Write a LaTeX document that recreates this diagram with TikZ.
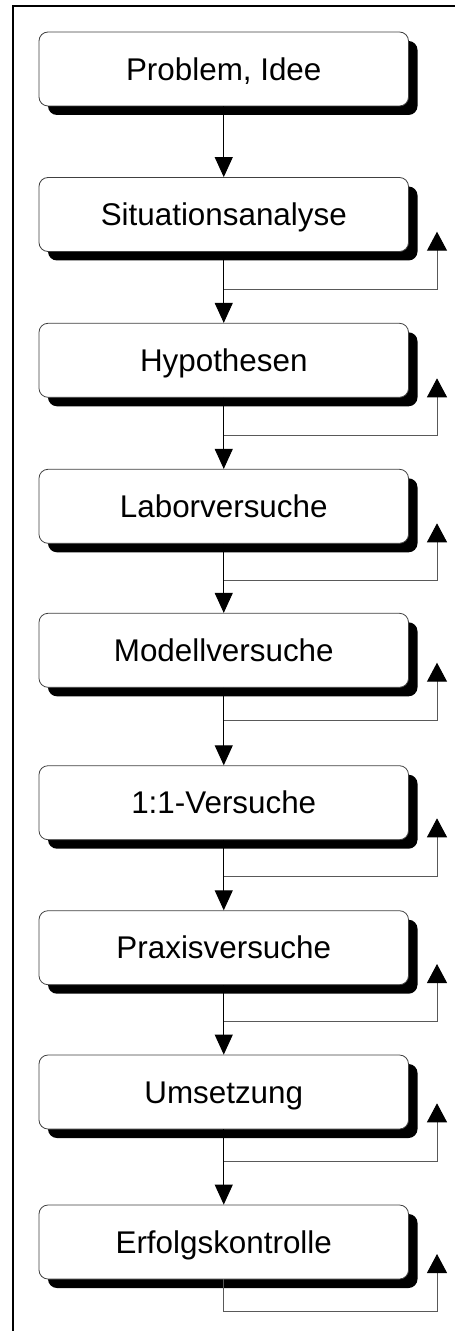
\documentclass[tikz,border=0pt]{standalone}
\usepackage{fontspec}
\setmainfont{Liberation Sans}
\usetikzlibrary{arrows.meta,shadows}
\begin{document}
\begin{tikzpicture}[x=1bp,y=-1bp,
  stepbox/.style={draw=black!75, line width=0.8bp, fill=white, rounded corners=9bp,
    minimum width=369.5bp, minimum height=74bp, inner sep=0pt,
    text height=22.5bp, text depth=0pt,
    font=\fontsize{31.5}{37}\selectfont,
    drop shadow={shadow xshift=9bp, shadow yshift=-9bp, fill=black, opacity=1, rounded corners=9bp, draw=none}},
  flow/.style={draw=black, line width=1bp, -{Triangle[width=18bp,length=20bp,color=black]}},
  fbline/.style={draw=black!65, line width=1bp},
  fbarrow/.style={draw=black!65, line width=1bp, -{Triangle[width=20bp,length=19bp,color=black]}},
  frame/.style={draw=black, line width=2bp}]
\useasboundingbox (0,0) rectangle (455,1331);
\draw[frame] (13,1345) -- (13,6) -- (470,6);

\node[stepbox] (b1) at (223.75,69) {Problem, Idee};
\node[stepbox] (b2) at (223.75,214.5) {Situationsanalyse};
\node[stepbox] (b3) at (223.75,360.3) {Hypothesen};
\node[stepbox] (b4) at (223.75,506.3) {Laborversuche};
\node[stepbox] (b5) at (223.75,650.3) {Modellversuche};
\node[stepbox] (b6) at (223.75,802.7) {1:1-Versuche};
\node[stepbox] (b7) at (223.75,947.7) {Praxisversuche};
\node[stepbox] (b8) at (223.75,1092) {Umsetzung};
\node[stepbox] (b9) at (223.75,1242) {Erfolgskontrolle};

\draw[flow] (b1.south) -- (b2.north);
\draw[flow] (b2.south) -- (b3.north);
\draw[flow] (b3.south) -- (b4.north);
\draw[flow] (b4.south) -- (b5.north);
\draw[flow] (b5.south) -- (b6.north);
\draw[flow] (b6.south) -- (b7.north);
\draw[flow] (b7.south) -- (b8.north);
\draw[flow] (b8.south) -- (b9.north);

\coordinate (f2) at (223.75,289.3);  \coordinate (r2) at (437,231.7);
\coordinate (f3) at (223.75,435);    \coordinate (r3) at (437,378.3);
\coordinate (f4) at (223.75,580);    \coordinate (r4) at (437,523.3);
\coordinate (f5) at (223.75,720);    \coordinate (r5) at (437,662.7);
\coordinate (f6) at (223.75,876);    \coordinate (r6) at (437,818.3);
\coordinate (f7) at (223.75,1021.7); \coordinate (r7) at (437,964);
\coordinate (f8) at (223.75,1161);   \coordinate (r8) at (437,1103.3);
\coordinate (f9) at (223.75,1311.7); \coordinate (r9) at (437,1254);

\foreach \i in {2,...,8} {\draw[fbarrow] (f\i) -| (r\i);}
\draw[fbline] (b9.south) -- (f9);
\draw[fbarrow] (f9) -| (r9);
\end{tikzpicture}
\end{document}
